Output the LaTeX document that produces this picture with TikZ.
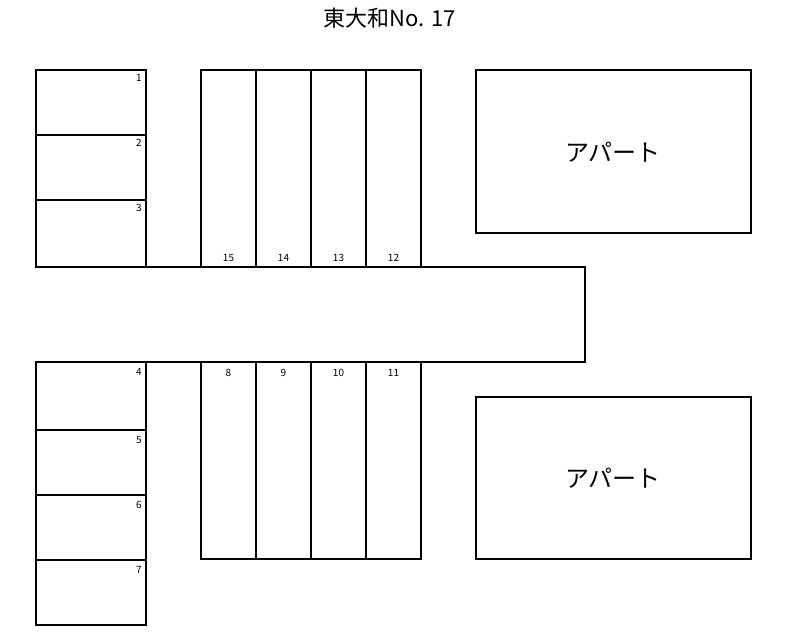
\documentclass[tikz,border=0pt]{standalone}
\usepackage{fontspec}
\setmainfont{Noto Sans CJK JP}
\tikzset{lot/.style={draw, line width=1.5pt}, num/.style={font=\fontsize{10}{10}\selectfont, inner sep=0pt}}
\begin{document}
\begin{tikzpicture}[x=1pt, y=-1pt, line join=miter]
    \useasboundingbox (0,0) rectangle (785,640);
    \fill[white] (0,0) rectangle (785,640);
    % title
    \node (title) at (390,18) {\fontsize{22}{22}\selectfont 東大和No. 17};

    % left column, upper
    \foreach \n/\ya/\yb in {1/70/135, 2/135/200, 3/200/267} {
        \draw[lot] (36,\ya) rectangle (146,\yb);
        \node[num] (n\n) at (139,{\ya+8}) {\n};
    }
    % left column, lower
    \foreach \n/\ya/\yb in {4/362/430, 5/430/495, 6/495/560, 7/560/625} {
        \draw[lot] (36,\ya) rectangle (146,\yb);
        \node[num] (n\n) at (139,{\ya+10}) {\n};
    }
    % middle blocks
    \foreach \n/\xa in {15/201, 14/256, 13/311, 12/366} {
        \draw[lot] (\xa,70) rectangle ({\xa+55},267);
        \node[num] (n\n) at ({\xa+27.5},258) {\n};
    }
    \foreach \n/\xa in {8/201, 9/256, 10/311, 11/366} {
        \draw[lot] (\xa,362) rectangle ({\xa+55},559);
        \node[num] (n\n) at ({\xa+27.5},373) {\n};
    }

    % driveway
    \draw[lot] (36,267) -- (585,267) -- (585,362) -- (36,362);

    % apartments
    \draw[lot] (476,70) rectangle (751,233);
    \node (apt1) at (613,152) {\fontsize{24}{24}\selectfont アパート};
    \draw[lot] (476,397) rectangle (751,559);
    \node (apt2) at (613,478) {\fontsize{24}{24}\selectfont アパート};
\end{tikzpicture}
\end{document}
